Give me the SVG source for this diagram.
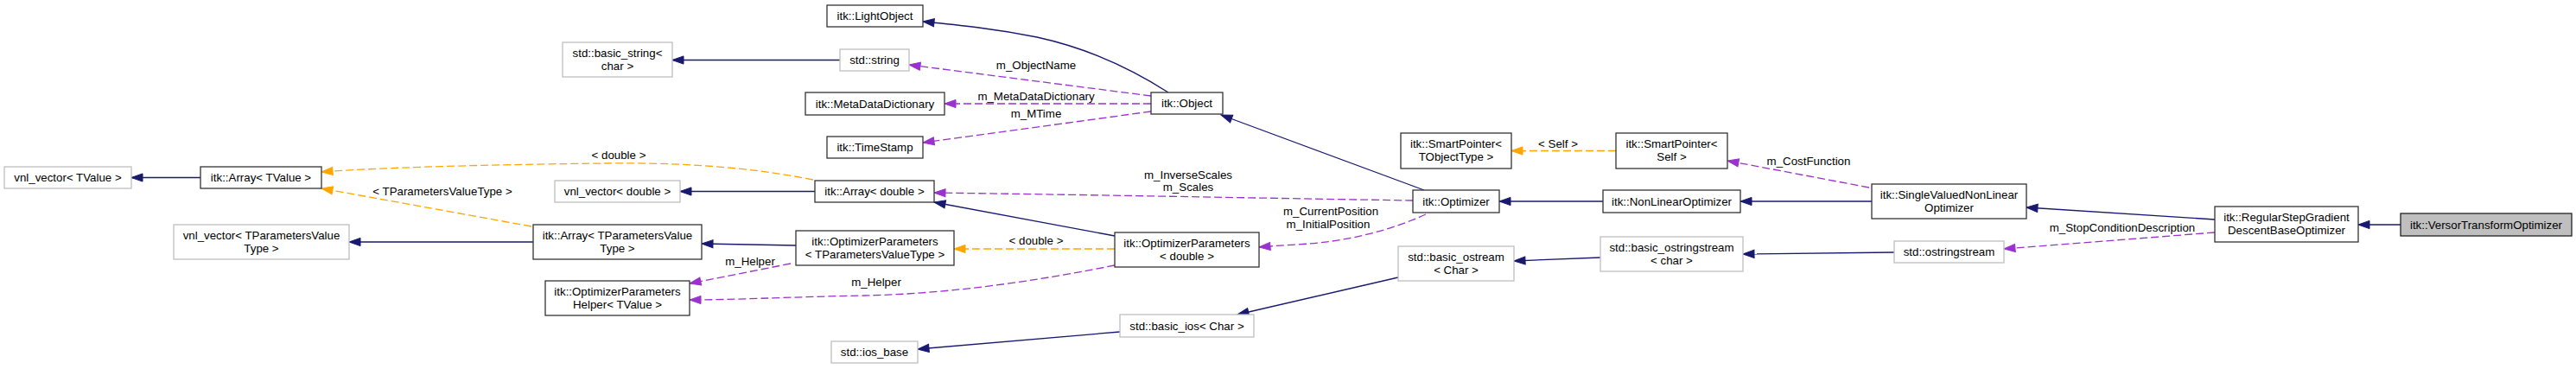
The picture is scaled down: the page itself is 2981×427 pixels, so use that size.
<svg xmlns="http://www.w3.org/2000/svg" width="2981" height="427" viewBox="0 0 2981 427">
<style>
text{font-family:"Liberation Sans",Arial,sans-serif;font-size:13.3px;fill:#000}
.n text,.l{text-anchor:middle}
.b{fill:#fff;stroke:#333;stroke-width:1.3}
.g{fill:#fff;stroke:#bfbfbf;stroke-width:1.3}
.s{fill:#bfbfbf;stroke:#222;stroke-width:1.3}
.e{fill:none;stroke-width:1.3}
.inh{stroke:#191970;marker-end:url(#ab)}
.use{stroke:#9a32cd;stroke-dasharray:9,4;marker-end:url(#ap)}
.tpl{stroke:#ffa500;stroke-dasharray:9,4;marker-end:url(#ao)}
marker{overflow:visible}
</style>
<defs>
<marker id="ab" viewBox="0 0 14 10" refX="13" refY="5" markerWidth="14" markerHeight="10" markerUnits="userSpaceOnUse" orient="auto"><path d="M0,0.4 L13,5 L0,9.6 z" fill="#191970" stroke="#191970" stroke-width="1"/></marker>
<marker id="ap" viewBox="0 0 14 10" refX="13" refY="5" markerWidth="14" markerHeight="10" markerUnits="userSpaceOnUse" orient="auto"><path d="M0,0.4 L13,5 L0,9.6 z" fill="#9a32cd" stroke="#9a32cd" stroke-width="1"/></marker>
<marker id="ao" viewBox="0 0 14 10" refX="13" refY="5" markerWidth="14" markerHeight="10" markerUnits="userSpaceOnUse" orient="auto"><path d="M0,0.4 L13,5 L0,9.6 z" fill="#ffa500" stroke="#ffa500" stroke-width="1"/></marker>
</defs>
<rect width="2981" height="427" fill="#fff"/>
<g id="connectors">
<path class="e inh" d="M232,205.5 L152,205.5"/>
<path class="e inh" d="M617,280 L404,280"/>
<path class="e tpl" d="M615,262 L372,218"/>
<path class="e tpl" d="M941,208 C860,192 780,188 700,189 C600,190 450,193 372,199"/>
<path class="e inh" d="M943,221.5 L787,221.5"/>
<path class="e inh" d="M921,284 L812,282"/>
<path class="e use" d="M915,305 L798,328"/>
<path class="e tpl" d="M1290,288 L1104,288"/>
<path class="e inh" d="M1290,273 L1081,234"/>
<path class="e use" d="M1290,307 C1200,325 1100,340 1000,342 C900,344 850,347 798,347"/>
<path class="e inh" d="M1352,107 C1310,80 1260,56 1200,43 C1150,33 1110,29 1068,25"/>
<path class="e use" d="M1332,111 L1052,75"/>
<path class="e use" d="M1332,120 L1093,120"/>
<path class="e use" d="M1332,129 L1068,165"/>
<path class="e inh" d="M1648,220 L1413,133"/>
<path class="e use" d="M1635,232 C1500,230 1300,226 1081,223"/>
<path class="e use" d="M1650,248 C1610,266 1560,280 1500,283 C1480,284 1470,285 1457,286"/>
<path class="e inh" d="M1855,233 L1735,233"/>
<path class="e inh" d="M2166,233 L2014,233"/>
<path class="e use" d="M2163,217 L1999,186"/>
<path class="e tpl" d="M1870,174.5 L1749,174.5"/>
<path class="e inh" d="M2563,254 L2345,240"/>
<path class="e use" d="M2563,269 L2319,288"/>
<path class="e inh" d="M2778,260 L2729,260"/>
<path class="e inh" d="M2192,292 L2017,294"/>
<path class="e inh" d="M1852,298 L1752,302"/>
<path class="e inh" d="M1618,321 L1432,364"/>
<path class="e inh" d="M1296,384 L1062,404"/>
<path class="e inh" d="M972,69.5 L778,69.5"/>
<text class="l" x="512" y="226">&lt; TParametersValueType &gt;</text>
<text class="l" x="716" y="184">&lt; double &gt;</text>
<text class="l" x="868" y="307">m_Helper</text>
<text class="l" x="1014" y="331">m_Helper</text>
<text class="l" x="1199" y="80">m_ObjectName</text>
<text class="l" x="1199" y="116">m_MetaDataDictionary</text>
<text class="l" x="1199" y="136">m_MTime</text>
<text class="l" x="1375" y="207">m_InverseScales</text>
<text class="l" x="1375" y="221">m_Scales</text>
<text class="l" x="1199" y="283">&lt; double &gt;</text>
<text class="l" x="1540" y="249">m_CurrentPosition</text>
<text class="l" x="1537" y="264">m_InitialPosition</text>
<text class="l" x="1803" y="171">&lt; Self &gt;</text>
<text class="l" x="2093" y="191">m_CostFunction</text>
<text class="l" x="2456" y="268">m_StopConditionDescription</text>
</g>
<g id="n1" class="n"><rect class="g" x="5" y="193" width="147" height="25"/><text x="78.5" y="210">vnl_vector&lt; TValue &gt;</text></g>
<g id="n2" class="n"><rect class="b" x="232" y="193" width="140" height="25"/><text x="302" y="210">itk::Array&lt; TValue &gt;</text></g>
<g id="n3" class="n"><rect class="g" x="201" y="260" width="203" height="40"/><text x="302.5" y="277">vnl_vector&lt; TParametersValue</text><text x="302.5" y="292">Type &gt;</text></g>
<g id="n4" class="n"><rect class="g" x="651" y="49" width="127" height="40"/><text x="714.5" y="66">std::basic_string&lt;</text><text x="714.5" y="81">char &gt;</text></g>
<g id="n5" class="n"><rect class="b" x="617" y="260" width="195" height="40"/><text x="714.5" y="277">itk::Array&lt; TParametersValue</text><text x="714.5" y="292">Type &gt;</text></g>
<g id="n6" class="n"><rect class="b" x="631" y="325" width="167" height="40"/><text x="714.5" y="342">itk::OptimizerParameters</text><text x="714.5" y="357">Helper&lt; TValue &gt;</text></g>
<g id="n7" class="n"><rect class="g" x="642" y="209" width="145" height="25"/><text x="714.5" y="226">vnl_vector&lt; double &gt;</text></g>
<g id="n8" class="n"><rect class="b" x="957" y="6" width="111" height="25"/><text x="1012.5" y="23">itk::LightObject</text></g>
<g id="n9" class="n"><rect class="g" x="972" y="57" width="80" height="25"/><text x="1012" y="74">std::string</text></g>
<g id="n10" class="n"><rect class="b" x="932" y="107" width="161" height="26"/><text x="1012.5" y="124.5">itk::MetaDataDictionary</text></g>
<g id="n11" class="n"><rect class="b" x="957" y="158" width="111" height="25"/><text x="1012.5" y="175">itk::TimeStamp</text></g>
<g id="n12" class="n"><rect class="b" x="943" y="209" width="138" height="25"/><text x="1012" y="226">itk::Array&lt; double &gt;</text></g>
<g id="n13" class="n"><rect class="b" x="921" y="267" width="183" height="40"/><text x="1012.5" y="284">itk::OptimizerParameters</text><text x="1012.5" y="299">&lt; TParametersValueType &gt;</text></g>
<g id="n14" class="n"><rect class="g" x="962" y="395" width="100" height="25"/><text x="1012" y="412">std::ios_base</text></g>
<g id="n15" class="n"><rect class="b" x="1332" y="107" width="83" height="25"/><text x="1373.5" y="124">itk::Object</text></g>
<g id="n16" class="n"><rect class="b" x="1290" y="269" width="167" height="40"/><text x="1373.5" y="286">itk::OptimizerParameters</text><text x="1373.5" y="301">&lt; double &gt;</text></g>
<g id="n17" class="n"><rect class="g" x="1296" y="364" width="155" height="26"/><text x="1373.5" y="381.5">std::basic_ios&lt; Char &gt;</text></g>
<g id="n18" class="n"><rect class="b" x="1621" y="154" width="128" height="41"/><text x="1685" y="171">itk::SmartPointer&lt;</text><text x="1685" y="186">TObjectType &gt;</text></g>
<g id="n19" class="n"><rect class="b" x="1635" y="220" width="100" height="26"/><text x="1685" y="237.5">itk::Optimizer</text></g>
<g id="n20" class="n"><rect class="g" x="1618" y="285" width="134" height="40"/><text x="1685" y="302">std::basic_ostream</text><text x="1685" y="317">&lt; Char &gt;</text></g>
<g id="n21" class="n"><rect class="b" x="1870" y="154" width="129" height="41"/><text x="1934.5" y="171">itk::SmartPointer&lt;</text><text x="1934.5" y="186">Self &gt;</text></g>
<g id="n22" class="n"><rect class="b" x="1855" y="220" width="159" height="26"/><text x="1934.5" y="237.5">itk::NonLinearOptimizer</text></g>
<g id="n23" class="n"><rect class="g" x="1852" y="274" width="165" height="40"/><text x="1934.5" y="291">std::basic_ostringstream</text><text x="1934.5" y="306">&lt; char &gt;</text></g>
<g id="n24" class="n"><rect class="b" x="2166" y="213" width="179" height="40"/><text x="2255.5" y="230">itk::SingleValuedNonLinear</text><text x="2255.5" y="245">Optimizer</text></g>
<g id="n25" class="n"><rect class="g" x="2192" y="279" width="127" height="25"/><text x="2255.5" y="296">std::ostringstream</text></g>
<g id="n26" class="n"><rect class="b" x="2563" y="239" width="166" height="41"/><text x="2646" y="256">itk::RegularStepGradient</text><text x="2646" y="271">DescentBaseOptimizer</text></g>
<g id="n27" class="n"><rect class="s" x="2778" y="247" width="198" height="26"/><text x="2877" y="264.5">itk::VersorTransformOptimizer</text></g>
</svg>
